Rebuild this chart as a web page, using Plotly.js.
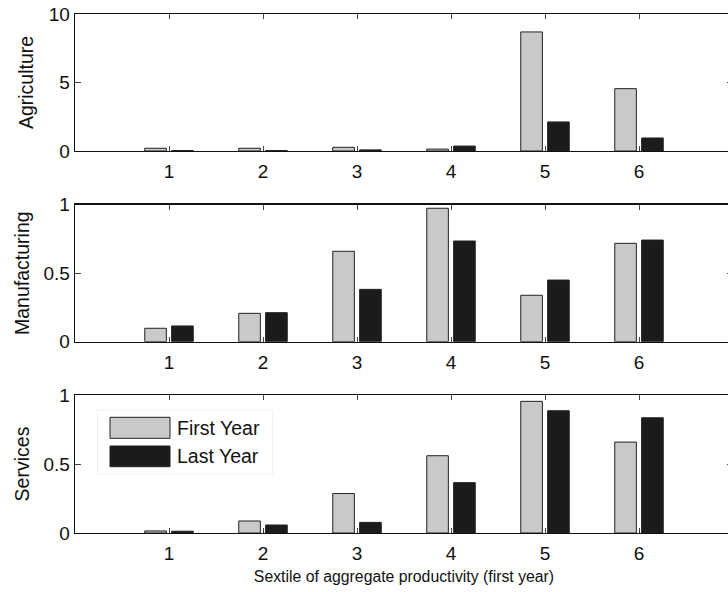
<!DOCTYPE html>
<html>
<head>
<meta charset="utf-8">
<script src="https://cdn.plot.ly/plotly-3.0.1.min.js"></script>
<style>
  html, body { margin: 0; padding: 0; background: #fff; overflow: hidden; }
  #chart { width: 740px; height: 592px; }
</style>
</head>
<body>
<div id="chart"></div>
<script>
// Sextiles of aggregate productivity (first year)
const sextiles = [1, 2, 3, 4, 5, 6];
const seriesNames = ['First Year', 'Last Year'];

// Agriculture
const agricultureFirst = [0.2, 0.2, 0.27, 0.14, 8.69, 4.55];
const agricultureLast  = [0.03, 0.03, 0.08, 0.36, 2.12, 0.95];
// Manufacturing
const manufacturingFirst = [0.098, 0.207, 0.66, 0.974, 0.339, 0.718];
const manufacturingLast  = [0.115, 0.212, 0.382, 0.735, 0.45, 0.742];
// Services
const servicesFirst = [0.015, 0.087, 0.286, 0.56, 0.954, 0.659];
const servicesLast  = [0.013, 0.058, 0.077, 0.365, 0.886, 0.835];

const sectorNames = ['Agriculture', 'Manufacturing', 'Services'];
const yRanges = [[0, 10], [0, 1], [0, 1]];
const yTicks = [[0, 5, 10], [0, 0.5, 1], [0, 0.5, 1]];
const yTickText = [['0', '5', '10'], ['0', '0.5', '1'], ['0', '0.5', '1']];

const FONT = 'Liberation Sans, Arial, Helvetica, sans-serif';
const colors = ['#c9c9c9', '#1b1b1b'];

// figure geometry (pixels)
const W = 740, H = 592;
const M = { l: 75, r: 7, t: 14, b: 59 };
const plotH = H - M.t - M.b;
const plotW = W - M.l - M.r;
const py = v => (H - M.b - v) / plotH;   // pixel row -> paper y
const px = v => (v - M.l) / plotW;       // pixel column -> paper x

const panelPx = [[14, 151], [204.7, 341.7], [395, 533]];

const data = [];
const seriesBySector = [
  [agricultureFirst, agricultureLast],
  [manufacturingFirst, manufacturingLast],
  [servicesFirst, servicesLast]
];
const offsets = [-0.258, 0.028];

seriesBySector.forEach((pair, i) => {
  const sfx = i === 0 ? '' : String(i + 1);
  pair.forEach((vals, k) => {
    data.push({
      type: 'bar',
      x: sextiles,
      y: vals,
      name: seriesNames[k],
      xaxis: 'x' + sfx,
      yaxis: 'y' + sfx,
      width: 0.23,
      offset: offsets[k],
      marker: { color: colors[k], line: { color: '#222', width: 1 } },
      showlegend: false,
      hoverinfo: 'x+y+name'
    });
  });
});

const layout = {
  width: W,
  height: H,
  margin: M,
  paper_bgcolor: '#fff',
  plot_bgcolor: '#fff',
  barmode: 'overlay',
  font: { family: FONT, size: 19, color: '#111' },
  showlegend: false,
  shapes: [],
  annotations: []
};

for (let i = 0; i < 3; i++) {
  const sfx = i === 0 ? '' : String(i + 1);
  const [top, bot] = panelPx[i];
  layout['xaxis' + sfx] = {
    domain: [0, 1],
    anchor: 'y' + sfx,
    range: [0, 7],
    tickmode: 'array',
    tickvals: sextiles,
    ticktext: sextiles.map(String),
    ticks: 'inside',
    ticklen: 5,
    tickwidth: 1,
    tickcolor: '#444',
    showline: true,
    linecolor: '#111',
    linewidth: 1.3,
    mirror: 'ticks',
    showgrid: false,
    zeroline: false,
    fixedrange: true,
    ticklabelstandoff: 3,
    tickfont: { family: FONT, size: 19, color: '#111' }
  };
  layout['yaxis' + sfx] = {
    domain: [py(bot), py(top)],
    anchor: 'x' + sfx,
    range: yRanges[i],
    tickmode: 'array',
    tickvals: yTicks[i],
    ticktext: yTickText[i],
    ticks: 'inside',
    ticklen: 6,
    tickwidth: 1,
    tickcolor: '#444',
    showline: true,
    linecolor: '#111',
    linewidth: 1.3,
    mirror: 'ticks',
    showgrid: false,
    zeroline: false,
    fixedrange: true,
    tickfont: { family: FONT, size: 19, color: '#111' },
    title: { text: sectorNames[i], font: { family: FONT, size: 19.5, color: '#111' }, standoff: i === 0 ? 10 : 8 }
  };
}
layout.xaxis3.title = {
  text: 'Sextile of aggregate productivity (first year)',
  font: { family: FONT, size: 15.8, color: '#111' },
  standoff: 7
};

// legend box inside the services panel
layout.shapes.push({
  type: 'rect', xref: 'paper', yref: 'paper',
  x0: px(97.5), x1: px(272.5), y0: py(474), y1: py(410),
  line: { color: '#eef0f6', width: 1 }, fillcolor: '#fff', layer: 'above'
});
const swatchRows = [[417.3, 438.3], [446, 466.7]];
seriesNames.forEach((name, k) => {
  const [a, b] = swatchRows[k];
  layout.shapes.push({
    type: 'rect', xref: 'paper', yref: 'paper',
    x0: px(110), x1: px(170), y0: py(b), y1: py(a),
    line: { color: '#222', width: 1 }, fillcolor: colors[k], layer: 'above'
  });
  layout.annotations.push({
    xref: 'paper', yref: 'paper',
    x: px(175), y: py((a + b) / 2),
    xanchor: 'left', yanchor: 'middle',
    text: name, showarrow: false,
    font: { family: FONT, size: 19.5, color: '#111' }
  });
});

Plotly.newPlot('chart', data, layout, { displayModeBar: false, staticPlot: true });
</script>
</body>
</html>
